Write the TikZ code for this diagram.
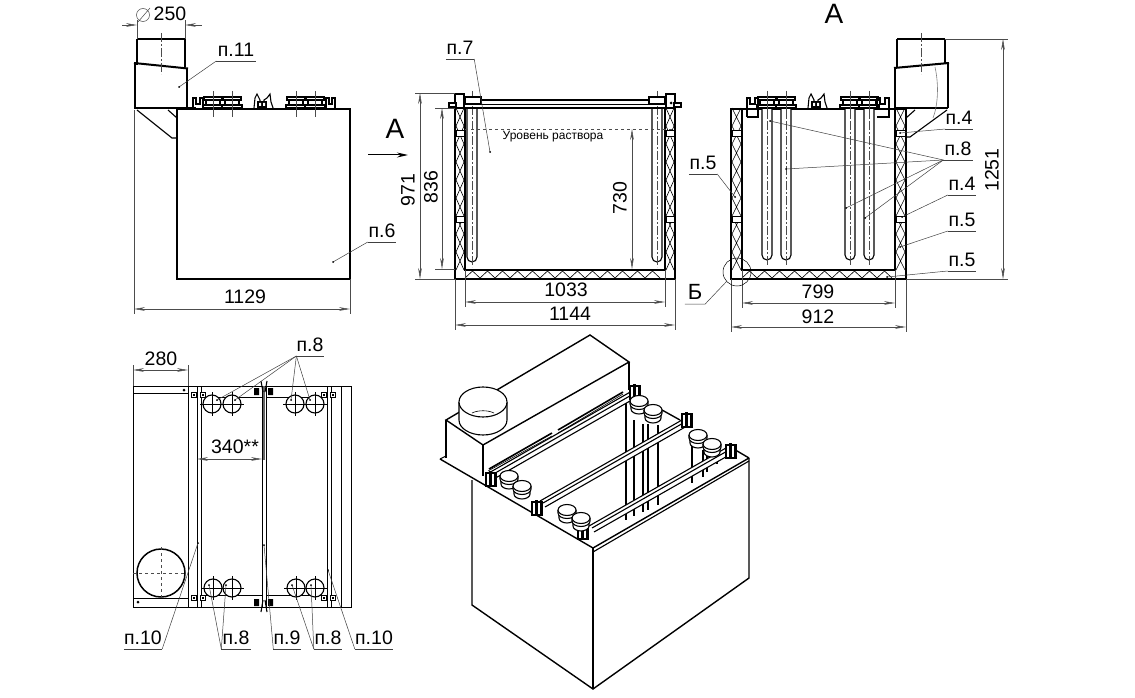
\documentclass[tikz,border=0pt]{standalone}
\usepackage{fontspec}
\setmainfont{Liberation Sans}
\usetikzlibrary{arrows.meta}

\tikzset{
  >={Stealth[length=11pt,width=3.6pt]},
  outline/.style={line width=2pt,line join=miter},
  isoline/.style={line width=1.4pt,line join=miter},
  edge/.style={line width=1.1pt},
  planline/.style={line width=0.8pt},
  fine/.style={line width=0.6pt},
  dimline/.style={line width=0.5pt,draw=black!70,<->},
  extline/.style={line width=0.5pt,draw=black!70},
  leadline/.style={line width=0.5pt,draw=black!75},
  axisline/.style={line width=0.5pt,draw=black!70,dash pattern=on 9pt off 2pt on 2pt off 2pt},
  dimtext/.style={font=\fontsize{19.5}{19.5}\selectfont,inner sep=0pt},
  poz/.style={font=\fontsize{19.5}{19.5}\selectfont,anchor=south,inner xsep=0pt,inner ysep=4pt},
  bigletter/.style={font=\fontsize{28}{28}\selectfont,inner sep=0pt}
}

% underlined position label: name, rule centre, rule width, text
\newcommand{\pozlabel}[4]{%
  \node (#1) [poz,minimum width=#3pt] at (#2) {#4};
  \draw[leadline] (#1.south west) -- (#1.south east);
}
% leader line from a rule to a dot
\newcommand{\leadto}[2]{%
  \draw[leadline] (#1) -- (#2);
  \fill (#2) circle (1);
}
% crossed wall filling
\newcommand{\wallx}[2]{%
  \foreach \yy in {108,126,...,252}{
    \draw[fine] (#1,\yy) -- (#2,\yy+18) (#2,\yy) -- (#1,\yy+18);
  }
}
\newcommand{\wallblock}[2]{%
  \draw[fine,fill=white] (#1,130) rectangle (#2,136);
  \draw[fine,fill=white] (#1,216) rectangle (#2,222);
}
\newcommand{\floorx}[1]{%
  \foreach \xx in {#1}{
    \draw[fine] (\xx,278) -- (\xx+7.5,271) -- (\xx+15,278);
  }
}
% heater tube hanging from the lid
\newcommand{\tube}[3]{%
  \draw[edge,fill=white] (#1-5,#2) -- (#1-5,#3-5) arc (180:0:5) -- (#1+5,#2);
  \draw[axisline] (#1,91) -- (#1,#3+5);
}
\newcommand{\flange}[1]{%
  \draw[edge,fill=white] (#1-9,97) rectangle (#1+9,100);
  \draw[edge,fill=white] (#1-7,100) rectangle (#1+7,105);
  \draw[edge,fill=white] (#1-10,105) rectangle (#1+10,108);
  \draw[extline] (#1,91) -- (#1,117);
}
\newcommand{\midclamp}[1]{%
  \draw[edge] (#1-9,108) -- (#1-8,98) -- (#1-6,94) -- (#1-3,100) -- (#1-3,108)
    (#1+1,108) -- (#1+1,100) -- (#1+4,98) -- (#1+7,94) -- (#1+8,102) -- (#1+10,108);
  \fill (#1-6,101) rectangle (#1+4,108);
  \fill[white] (#1-4,103) rectangle (#1-2,106) (#1,103) rectangle (#1+2,106);
}
% small plan bracket
\newcommand{\plansq}[2]{%
  \draw[planline,fill=white] (#1-2.5,#2-2.5) rectangle (#1+2.5,#2+2.5);
  \fill (#1-1,#2-1) rectangle (#1+1,#2+1);
}
\newcommand{\plancircle}[2]{%
  \draw[edge,fill=white] (#1,#2) circle (9);
  \draw[fine] (#1-12,#2) -- (#1+12,#2) (#1,#2-12) -- (#1,#2+12);
}
% heater head in the isometric view
\newcommand{\isodisc}[2]{%
  \draw[edge,fill=white] (#1-8,#2+3) -- (#1-8,#2+8) arc (180:0:8 and 5) -- (#1+8,#2+3);
  \draw[edge,fill=white] (#1-9,#2) -- (#1-9,#2+3) arc (180:0:9 and 5.5) -- (#1+9,#2);
  \draw[edge,fill=white] (#1,#2) ellipse [x radius=9, y radius=5.5];
}
\newcommand{\isoclamp}[2]{%
  \draw[edge,fill=white] (#1-5,#2-6) rectangle (#1+5,#2+7);
  \fill (#1-2,#2-8) rectangle (#1+1,#2+8);
  \fill (#1+3,#2-5) rectangle (#1+5,#2+6);
}
\newcommand{\isorail}[4]{%
  \fill[white] (#1,#2) -- (#3,#4) -- (#3+5,#4+6) -- (#1+5,#2+6) -- cycle;
  \draw[edge] (#1,#2) -- (#3,#4);
  \draw[edge] (#1+3,#2+2) -- (#3+3,#4+2);
  \draw[edge] (#1+5,#2+6) -- (#3+5,#4+6);
}

\begin{document}
\begin{tikzpicture}[x=1pt,y=-1pt]

    \useasboundingbox (0,0) rectangle (1135,698);
    \fill[white] (0,0) rectangle (1135,698);

    % side view
    \draw[outline] (177,109) rectangle (350,279);
    \draw[outline] (134,108.5) -- (196,108.5);
    \draw[edge] (137,39) -- (185,39) (137,39) -- (137,65) (185,39) -- (185,67);
    \draw[isoline] (135,64) -- (135,108) (187,69) -- (187,108);
    \draw[outline] (134,63) -- (188,68.5);
    \draw[axisline] (161,33) -- (161,74);
    \draw[edge] (137,110) -- (172,138) -- (177,138) (168,110) -- (177,118);
    \flange{213} \flange{232} \flange{296} \flange{315}
    \draw[edge] (193,108) -- (193,98) -- (196,98) -- (196,104) -- (200,104) -- (200,98) -- (203,98) -- (203,108);
    \draw[edge] (326,108) -- (326,98) -- (329,98) -- (329,104) -- (332,104) -- (332,98) -- (335,98) -- (335,108);
    \midclamp{263}

    \draw[extline] (137,39) -- (137,20) (185,39) -- (185,20);
    \draw[extline,<-] (137,25) -- (122,25);
    \draw[extline,<-] (185,25) -- (202,25);
    \draw[extline] (143,15) circle (6.5) (138,22) -- (150,8);
    \node (d250) [dimtext] at (170,14) {250};
    \draw[extline] (134,110) -- (134,314) (350,279) -- (350,314);
    \draw[dimline] (134,309) -- (350,309);
    \node (d1129) [dimtext] at (245,297) {1129};
    \pozlabel{p11}{236,61}{39}{п.11}
    \leadto{p11.south west}{179,87}
    \pozlabel{p6}{382,242}{28}{п.6}
    \leadto{p6.south west}{333,262}

    \node (viewA) [bigletter] at (395,129) {А};
    \draw[line width=1pt,-{Stealth[length=11pt,width=5pt]}] (368,155) -- (408,155);

    % section through the bath
    \draw[outline] (455,108) -- (455,279) -- (675,279) -- (675,108);
    \draw[outline] (465,108) -- (465,270) -- (665,270) -- (665,108);
    \wallx{456}{464} \wallx{666}{674}
    \wallblock{456}{464} \wallblock{666}{674}
    \floorx{465,480,...,650}
    \draw[outline] (455,108) -- (465,108) (665,108) -- (675,108);
    \tube{472}{108}{262} \tube{657}{108}{262}
    \draw[line width=1.5pt] (464,100) -- (667,100) (464,108) -- (667,108);
    \draw[fine] (464,104) -- (667,104);
    \draw[isoline,fill=white] (455,94) rectangle (464,108);
    \draw[isoline,fill=white] (449,103) rectangle (456,107);
    \draw[isoline,fill=white] (465,97) rectangle (481,104);
    \draw[isoline,fill=white] (666,94) rectangle (675,108);
    \draw[isoline,fill=white] (674,103) rectangle (681,107);
    \draw[isoline,fill=white] (649,97) rectangle (665,104);
    \fill (671,103) circle (1.5);
    \draw[extline,dashed] (465,129) -- (675,129);
    \node (level) [inner sep=0pt,font=\fontsize{12}{12}\selectfont] at (553,137) {Уровень раствора};

    \draw[extline] (415,93) -- (455,93) (415,279) -- (455,279);
    \draw[extline] (435,108) -- (455,108) (435,269) -- (455,269);
    \draw[dimline] (420,93) -- (420,279);
    \node (d971) [dimtext,rotate=90] at (408,190) {971};
    \draw[dimline] (442,108) -- (442,269);
    \node (d836) [dimtext,rotate=90] at (431,187) {836};
    \draw[dimline] (632,129) -- (632,269);
    \node (d730) [dimtext,rotate=90] at (620,198) {730};
    \draw[extline] (465,270) -- (465,307) (665,270) -- (665,307);
    \draw[dimline] (465,302) -- (665,302);
    \node (d1033) [dimtext] at (566,290) {1033};
    \draw[extline] (455,279) -- (455,330) (675,279) -- (675,330);
    \draw[dimline] (455,325) -- (675,325);
    \node (d1144) [dimtext] at (570,314) {1144};
    \pozlabel{p7}{460,59}{28}{п.7}
    \leadto{p7.south east}{490,152}

    % view A
    \node (titleA) [bigletter] at (834,14) {А};
    \draw[outline] (731,109) -- (731,279) -- (906,279) -- (906,109) -- (895,109) -- (895,270) -- (742,270) -- (742,109) -- cycle;
    \begin{scope}[xshift=276pt]
      \wallx{456}{465}
      \wallblock{456}{465}
    \end{scope}
    \begin{scope}[xshift=230pt]
      \wallx{666}{675}
      \wallblock{666}{675}
    \end{scope}
    \floorx{742,757,...,880}
    \draw[outline] (742,109) -- (895,109);
    \tube{767}{108}{260} \tube{786}{108}{260} \tube{850}{108}{260} \tube{869}{108}{260}
    \flange{767} \flange{786} \flange{850} \flange{869}
    \draw[edge] (747,117) -- (747,98) -- (750,98) -- (750,104) -- (755,104) -- (755,98) -- (758,98) -- (758,108);
    \draw[edge] (877,108) -- (877,98) -- (880,98) -- (880,104) -- (885,104) -- (885,98) -- (889,98) -- (889,117) -- (877,117);
    \draw[edge] (747,117) -- (758,117) -- (758,108);
    \midclamp{817}
    \draw[edge] (897,39) -- (945,39) (897,39) -- (897,67) (945,39) -- (945,64);
    \draw[isoline] (895,68) -- (895,108) (948,63) -- (948,108);
    \draw[outline] (895,108) -- (948,108);
    \draw[outline] (894,68) -- (949,63);
    \draw[axisline] (921,33) -- (921,74);
    \draw[fine,black!50] (935,67) .. controls (939,85) and (938,105) .. (933,118);
    \draw[edge] (947,110) -- (910,137) -- (906,137) (915,110) -- (906,118);
    \draw[extline] (945,39) -- (1008,39) (906,279) -- (1008,279);
    \draw[dimline] (1003,39) -- (1003,279);
    \node (d1251) [dimtext,rotate=90] at (992,170) {1251};
    \draw[extline] (742,270) -- (742,308) (895,270) -- (895,308);
    \draw[dimline] (742,303) -- (895,303);
    \node (d799) [dimtext] at (818,292) {799};
    \draw[extline] (731,279) -- (731,332) (906,279) -- (906,332);
    \draw[dimline] (731,327) -- (906,327);
    \node (d912) [dimtext] at (818,317) {912};
    \draw[line width=0.5pt] (737,272) circle (14);
    \node (mark) [poz,minimum width=20pt,font=\fontsize{22}{22}\selectfont] at (695,304) {Б};
    \draw[leadline] (mark.south west) -- (mark.south east) -- (727,281);

    \pozlabel{p5a}{703,174}{28}{п.5}
    \leadto{p5a.south east}{735,197}
    \pozlabel{p4a}{959,129}{26}{п.4}
    \leadto{p4a.south west}{900,133}
    \pozlabel{p8a}{958,160}{29}{п.8}
    \leadto{p8a.south west}{770,121}
    \leadto{p8a.south west}{786,169}
    \leadto{p8a.south west}{846,208}
    \leadto{p8a.south west}{865,218}
    \pozlabel{p4b}{962,195}{28}{п.4}
    \leadto{p4b.south west}{902,217}
    \pozlabel{p5b}{962,231}{28}{п.5}
    \leadto{p5b.south west}{900,247}
    \pozlabel{p5c}{962,271}{28}{п.5}
    \leadto{p5c.south west}{887,277}

    % plan
    \draw[planline] (133,386) rectangle (351,607);
    \draw[planline] (133,393) -- (188,393) (133,598) -- (188,598);
    \draw[planline] (188,386) -- (188,607) (197,386) -- (197,607) (201,386) -- (201,607);
    \draw[planline] (262,386) -- (262,607) (266,386) -- (266,607);
    \draw[line width=1.2pt,black!60] (264,386) -- (264,460);
    \draw[planline] (327,386) -- (327,607) (331,386) -- (331,607) (341,386) -- (341,607);
    \draw[planline] (201,397) -- (262,397) (266,397) -- (327,397);
    \draw[planline] (201,595) -- (262,595) (266,595) -- (327,595);
    \plancircle{212}{404} \plancircle{232}{404} \plancircle{295}{404} \plancircle{315}{404}
    \plancircle{213}{588} \plancircle{232}{588} \plancircle{296}{588} \plancircle{315}{588}
    \plansq{194}{395} \plansq{203}{395} \plansq{194}{598} \plansq{203}{598}
    \plansq{324}{395} \plansq{333}{395} \plansq{324}{598} \plansq{333}{598}
    \fill (254,388) rectangle (259,395) (268,388) rectangle (273,395);
    \fill (254,599) rectangle (259,606) (268,599) rectangle (273,606);
    \draw[edge] (261,381) -- (263,392) (267,381) -- (265,392) (261,612) -- (263,600) (267,612) -- (265,600);
    \fill (184,390) circle (1.5) (138,602) circle (1.5);
    \draw[line width=1.5pt] (161,573) circle (24);
    \draw[extline,dashed] (133,573) -- (185,573) (161,547) -- (161,599);

    \draw[extline] (133,365) -- (133,386) (188,365) -- (188,386);
    \draw[dimline] (133,370) -- (188,370);
    \node (d280) [dimtext] at (161,359) {280};
    \draw[dimline] (197,459) -- (262,459);
    \node (d340) [dimtext] at (235,447) {340**};

    \pozlabel{p8b}{310,356}{26}{п.8}
    \leadto{p8b.south west}{217,400}
    \leadto{p8b.south west}{235,400}
    \leadto{p8b.south west}{291,400}
    \leadto{p8b.south west}{310,400}
    \pozlabel{p10a}{143,649}{38}{п.10}
    \leadto{p10a.south east}{198,543}
    \pozlabel{p8c}{236,649}{29}{п.8}
    \leadto{p8c.south west}{209,585}
    \leadto{p8c.south west}{226,585}
    \pozlabel{p9}{287,649}{27}{п.9}
    \leadto{p9.south west}{264,545}
    \pozlabel{p8d}{328,649}{28}{п.8}
    \leadto{p8d.south west}{292,585}
    \leadto{p8d.south west}{311,585}
    \pozlabel{p10b}{374,649}{38}{п.10}
    \leadto{p10b.south west}{328,570}

    % isometric view
    \draw[isoline] (472,480) -- (472,605) -- (593,689) -- (749,578) -- (749,458);
    \draw[isoline] (593,548) -- (593,689);
    \draw[isoline] (440,459) -- (593,548) -- (749,458);
    \draw[edge] (440,459) -- (446,456) (593,552) -- (749,461);
    \draw[isoline] (662,410) -- (680,420) (732,448) -- (749,458);

    \draw[edge] (626,395) -- (626,520) (634,420) -- (634,516) (643,424) -- (643,512) (648,424) -- (648,510) (658,425) -- (658,505);
    \draw[edge] (692,445) -- (692,483) (703,450) -- (703,477) (707,455) -- (707,472) (717,455) -- (717,464);

    \draw[isoline] (446,420) -- (590,335) -- (629,362) -- (483,445) -- cycle;
    \draw[isoline] (446,420) -- (446,458) (483,445) -- (483,476) (629,362) -- (629,390);
    \draw[edge,fill=white] (459,402) -- (459,420) arc (180:0:24 and 15) -- (507,402);
    \draw[edge,fill=white] (483,402) ellipse [x radius=24, y radius=15];
    \draw[fine] (472,413) .. controls (478,410) and (488,410) .. (494,413);
    \draw[line width=1.6pt] (489,469) -- (552,433) (558,430) -- (623,392);
    \draw[fine] (488,471) -- (552,436) (558,433) -- (623,394);

    \isorail{487}{474}{632}{391}
    \isorail{540}{501}{682}{420}
    \isorail{589}{526}{726}{448}

    \isoclamp{491}{479} \isoclamp{537}{508} \isoclamp{583}{532}
    \isoclamp{635}{392} \isoclamp{687}{420} \isoclamp{731}{451}
    \isodisc{509}{476} \isodisc{522}{486}
    \isodisc{567}{510} \isodisc{581}{518}
    \isodisc{639}{401} \isodisc{653}{410}
    \isodisc{698}{435} \isodisc{712}{444}

  \end{tikzpicture}
\end{document}
